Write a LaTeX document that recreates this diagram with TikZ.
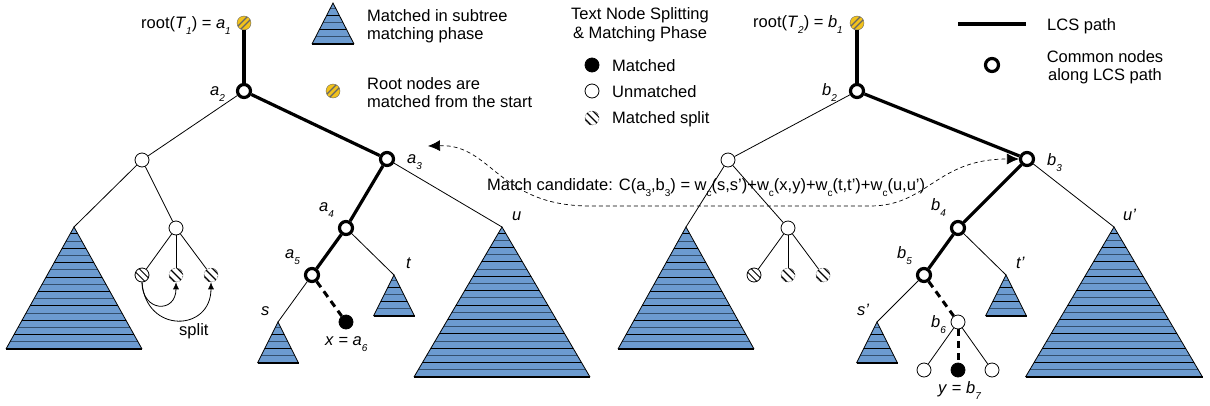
\documentclass[tikz,border=0pt]{standalone}
\usepackage{fontspec}
\setmainfont{Liberation Sans}
\usetikzlibrary{arrows.meta}
\definecolor{tricol}{HTML}{6C9BD0}
\definecolor{tristripe}{HTML}{34506E}
\definecolor{rootyellow}{HTML}{F2C21B}
% lowered small subscript
\newcommand\lsub[1]{\raisebox{-6.5pt}{\fontsize{10}{10}\selectfont #1}}
% italic vertex label with subscript
\newcommand\vlab[2]{\textit{#1}\lsub{\textit{#2}}}
\tikzset{
  thinedge/.style={line width=0.8pt},
  lcsedge/.style={line width=3.2pt},
  lcsdash/.style={line width=3pt, dash pattern=on 7pt off 5pt},
  common/.style={circle, draw, fill=white, line width=3.2pt, minimum size=13pt, inner sep=0pt},
  plain/.style={circle, draw, fill=white, line width=0.8pt, minimum size=14pt, inner sep=0pt},
  matched/.style={circle, draw, fill=black, line width=0.8pt, minimum size=14pt, inner sep=0pt},
  rootnode/.style={circle, fill=rootyellow, draw=black!60, line width=0.4pt, minimum size=14pt, inner sep=0pt,
    path picture={
      \draw[line width=1.2pt] ([shift={(-9,6)}]path picture bounding box.center) -- ++(15,-15);
      \draw[line width=1.2pt] ([shift={(-6,9)}]path picture bounding box.center) -- ++(15,-15);
    }},
  splitnode/.style={circle, draw, densely dotted, line width=0.5pt, minimum size=14pt, inner sep=0pt,
    path picture={
      \foreach \o in {-4,0,4}
        \draw[solid, line width=1.1pt] ([shift={(-8+\o,-8-\o)}]path picture bounding box.center) -- ++(16,16);
    }},
  halfsplit/.style={circle, draw, fill=white, line width=0.8pt, minimum size=14pt, inner sep=0pt,
    path picture={
      \foreach \o in {-1.8,1.8}
        \draw[line width=0.9pt] ([shift={(-8+\o,-8-\o)}]path picture bounding box.center) -- ++(16,16);
    }},
  lbl/.style={inner sep=0pt, anchor=base west},
  bigtip/.style={-{Latex[length=12pt,width=11pt]}},
  % striped subtree triangle: half width, height
  pics/tri/.style n args={2}{code={
    \fill[tricol] (0,0) -- (-#1,#2) -- (#1,#2) -- cycle;
    \begin{scope}
      \clip (0,0) -- (-#1,#2) -- (#1,#2) -- cycle;
      \foreach \k in {1,3,...,21}
        \draw[line width=1pt, tristripe] (-#1,#2-\k*7.2) -- (#1,#2-\k*7.2);
      \foreach \k in {2,4,...,22}
        \draw[line width=0.9pt, black] (-#1,#2-\k*7.2) -- (#1,#2-\k*7.2);
    \end{scope}
    \draw[line width=0.8pt] (-#1,#2) -- (0,0) -- (#1,#2);
    \draw[line width=1.6pt] (-#1,#2) -- (#1,#2);
  }},
}
\begin{document}
\begin{tikzpicture}[x=1pt, y=-1pt, font=\fontsize{16.5}{19}\selectfont]
\useasboundingbox (0,0) rectangle (1210,405);

% ---------- legend ----------
\coordinate (lgT) at (333,3);
\pic at (lgT) {tri={21}{41}};
\node[lbl] at (367,21) {Matched in subtree};
\node[lbl] at (367,39) {matching phase};
\node[rootnode] (lgR) at (333,91) {};
\node[lbl] at (367,89) {Root nodes are};
\node[lbl] at (367,107) {matched from the start};

\node[inner sep=0pt, anchor=base] at (640,19) {Text Node Splitting};
\node[inner sep=0pt, anchor=base] at (640,38) {\& Matching Phase};
\node[matched] (lgM) at (592,65) {};
\node[lbl] at (612,71) {Matched};
\node[plain] (lgU) at (592,91) {};
\node[lbl] at (612,97) {Unmatched};
\node[splitnode] (lgS) at (592,118) {};
\node[lbl] at (612,123) {Matched split};

\coordinate (lgA) at (958,24);
\coordinate (lgB) at (1026,24);
\draw[lcsedge] (lgA) -- (lgB);
\node[lbl] at (1047,30) {LCS path};
\node[common] (lgC) at (992,65) {};
\node[inner sep=0pt, anchor=base] at (1105,62) {Common nodes};
\node[inner sep=0pt, anchor=base] at (1105,80) {along LCS path};

% ---------- tree T1 ----------
\node[rootnode] (a1) at (244,23) {};
\node[common] (a2) at (244,91) {};
\node[plain] (l1) at (142,160) {};
\node[common] (a3) at (387,159) {};
\coordinate (tL) at (74,227);
\node[plain] (l2) at (176,228) {};
\node[halfsplit] (l3) at (142,275) {};
\node[splitnode] (l4) at (176,275) {};
\node[splitnode] (l5) at (211,275) {};
\node[common] (a4) at (346,228) {};
\coordinate (tU) at (502,227);
\node[common] (a5) at (312,275) {};
\coordinate (tT) at (394,275);
\coordinate (tS) at (278,322);
\node[matched] (x) at (346,322) {};

\pic at (tL) {tri={68}{122}};
\pic at (tU) {tri={88}{150}};
\pic at (tT) {tri={20.5}{41}};
\pic at (tS) {tri={20.5}{41}};

\draw[lcsedge] (a1) -- (a2);
\draw[lcsedge] (a2) -- (a3);
\draw[lcsedge] (a3) -- (a4);
\draw[lcsedge] (a4) -- (a5);
\draw[lcsdash] (a5) -- (x);
\draw[thinedge] (a2) -- (l1);
\draw[thinedge] (l1) -- (tL);
\draw[thinedge] (l1) -- (l2);
\draw[thinedge] (l2) -- (l3);
\draw[thinedge] (l2) -- (l4);
\draw[thinedge] (l2) -- (l5);
\draw[thinedge] (a3) -- (tU);
\draw[thinedge] (a4) -- (tT);
\draw[thinedge] (a5) -- (tS);

% split arrows
\draw[thinedge, -{Latex[length=7pt,width=6pt]}] (l3.south) .. controls (142,312) and (176,314) .. (l4.south);
\draw[thinedge, -{Latex[length=7pt,width=6pt]}] (l3.south) .. controls (146,334) and (211,332) .. (l5.south);
\node[lbl] at (179,335) {split};

% labels of T1
\node[inner sep=0pt, anchor=base east] at (231,28) {root(\textit{T}\lsub{\textit{1}}) = \vlab{a}{1}};
\node[lbl] at (210,95) {\vlab{a}{2}};
\node[lbl] at (407,163) {\vlab{a}{3}};
\node[lbl] at (319,211) {\vlab{a}{4}};
\node[lbl] at (285,258) {\vlab{a}{5}};
\node[lbl] at (261,315) {\textit{s}};
\node[lbl] at (406,268) {\textit{t}};
\node[lbl] at (512,220) {\textit{u}};
\node[lbl] at (325,345) {\textit{x} = \vlab{a}{6}};

% ---------- tree T2 ----------
\node[rootnode] (b1) at (857,23) {};
\node[common] (b2) at (857,91) {};
\node[plain] (r1) at (728,160) {};
\node[common] (b3) at (1027,159) {};
\coordinate (tL2) at (686,227);
\node[plain] (r2) at (788,228) {};
\node[halfsplit] (r3) at (754,275) {};
\node[splitnode] (r4) at (788,275) {};
\node[splitnode] (r5) at (823,275) {};
\node[common] (b4) at (958,228) {};
\coordinate (tU2) at (1114,227);
\node[common] (b5) at (924,275) {};
\coordinate (tT2) at (1006,275);
\coordinate (tS2) at (877,322);
\node[plain] (b6) at (958,322) {};
\node[plain] (r6) at (924,370) {};
\node[matched] (y) at (958,370) {};
\node[plain] (r7) at (992,370) {};

\pic at (tL2) {tri={68}{122}};
\pic at (tU2) {tri={88.5}{150}};
\pic at (tT2) {tri={20.5}{41}};
\pic at (tS2) {tri={20.5}{41}};

\draw[lcsedge] (b1) -- (b2);
\draw[lcsedge] (b2) -- (b3);
\draw[lcsedge] (b3) -- (b4);
\draw[lcsedge] (b4) -- (b5);
\draw[lcsdash] (b5) -- (b6);
\draw[lcsdash] (b6) -- (y);
\draw[thinedge] (b2) -- (r1);
\draw[thinedge] (r1) -- (tL2);
\draw[thinedge] (r1) -- (r2);
\draw[thinedge] (r2) -- (r3);
\draw[thinedge] (r2) -- (r4);
\draw[thinedge] (r2) -- (r5);
\draw[thinedge] (b3) -- (tU2);
\draw[thinedge] (b4) -- (tT2);
\draw[thinedge] (b5) -- (tS2);
\draw[thinedge] (b6) -- (r6);
\draw[thinedge] (b6) -- (r7);

% labels of T2
\node[inner sep=0pt, anchor=base east] at (843,27) {root(\textit{T}\lsub{\textit{2}}) = \vlab{b}{1}};
\node[lbl] at (822,95) {\vlab{b}{2}};
\node[lbl] at (1047,165) {\vlab{b}{3}};
\node[lbl] at (931,210) {\vlab{b}{4}};
\node[lbl] at (897,258) {\vlab{b}{5}};
\node[lbl] at (931,327) {\vlab{b}{6}};
\node[lbl] at (857,315) {\textit{s'}};
\node[lbl] at (1016,268) {\textit{t'}};
\node[lbl] at (1123,220) {\textit{u'}};
\node[lbl] at (938,393) {\textit{y} = \vlab{b}{7}};

% ---------- match candidate ----------
\coordinate (mcL) at (428,146);
\draw[line width=0.7pt, dash pattern=on 4pt off 3pt, {Latex[length=12pt,width=11pt]}-{Latex[length=12pt,width=11pt]}]
  (mcL) .. controls (492,144) and (498,206) .. (590,206) -- (870,206)
  .. controls (928,206) and (936,159) .. (b3.west);
\node[lbl] at (487,190) {Match candidate: C(a\lsub{3},b\lsub{3}) = w\lsub{c}(s,s')+w\lsub{c}(x,y)+w\lsub{c}(t,t')+w\lsub{c}(u,u')};
\end{tikzpicture}
\end{document}
